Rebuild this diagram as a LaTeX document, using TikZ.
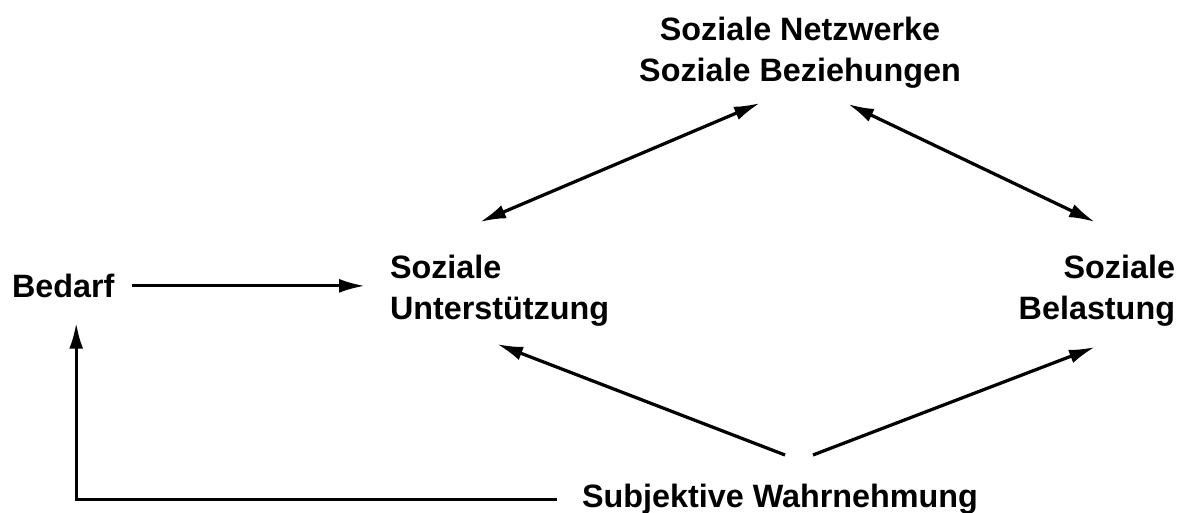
\documentclass[tikz,border=0pt]{standalone}
\usepackage{fontspec}
\setmainfont{Liberation Sans}
\usepackage{tikz}
\usetikzlibrary{arrows.meta,calc}

\begin{document}
\begin{tikzpicture}[
    font=\fontsize{23}{29}\selectfont\bfseries,
    concept/.style={inner sep=0pt, outer sep=0pt},
    arrow/.style={-{Latex[length=6.5mm,width=3.5mm]}, line width=2.3pt, black},
    twoway/.style={{Latex[length=6.5mm,width=3.5mm]}-{Latex[length=6.5mm,width=3.5mm]},
      line width=2.3pt, black}
  ]
    \useasboundingbox (0,0) rectangle (29.675,12.825);

    \node[concept, align=center, anchor=north] (netz) at (20.0,12.4)
      {Soziale Netzwerke\\Soziale Beziehungen};
    \node[concept, anchor=north west] (bedarf) at (0.3,5.975) {Bedarf};
    \node[concept, align=left, anchor=north west] (unter) at (9.75,6.45)
      {Soziale\\Unterstützung};
    \node[concept, align=right, anchor=north east] (belast) at (29.375,6.45)
      {Soziale\\Belastung};
    \node[concept, anchor=north] (wahr) at (19.5,0.725) {Subjektive Wahrnehmung};

    \draw[arrow] ([xshift=4.5mm]bedarf.east) -- ([xshift=-6.25mm]bedarf.east -| unter.west);
    \draw[twoway] ($(unter.north west)+(2.25,0.825)$) -- ($(netz.south)+(-1.0,-0.375)$);
    \draw[twoway] ($(netz.south)+(1.2,-0.4)$) -- ($(belast.north east)+(-2.0,0.825)$);
    \draw[arrow] ($(wahr.north)+(0.125,0.725)$) -- ($(unter.south west)+(2.675,-0.45)$);
    \draw[arrow] ($(wahr.north)+(0.825,0.725)$) -- ($(belast.south east)+(-2.0,-0.525)$);
    \draw[arrow] ([xshift=-6.25mm]wahr.west) -| ([xshift=3.25mm,yshift=-6.25mm]bedarf.south);
  \end{tikzpicture}
\end{document}
